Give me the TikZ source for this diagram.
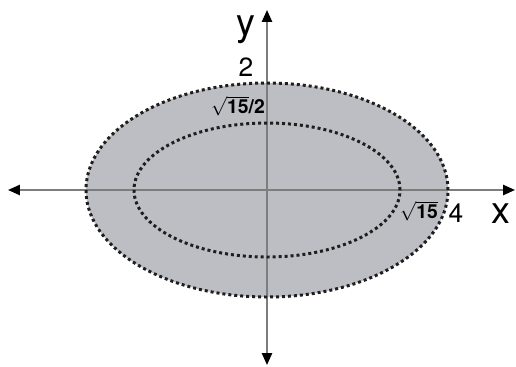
\documentclass[tikz,border=0pt]{standalone}
\usepackage{fontspec}
\setmainfont{TeX Gyre Heros}
\usetikzlibrary{arrows.meta}
\definecolor{riempimento}{RGB}{189,190,195}
\definecolor{asse}{RGB}{125,125,125}
\definecolor{puntini}{RGB}{30,30,30}
\tikzset{
	>={Triangle[length=6.8pt, width=5.8pt, color=black]},
	% assi cartesiani
	assi/.style={<->, asse, line width=1.1pt},
	% ellisse a puntini
	puntinata/.style={puntini, line width=1.7pt, dash pattern=on 1.7pt off 1.7pt},
	% nome dell'asse
	nomeasse/.style={inner sep=0pt, font=\fontsize{21.5}{24}\selectfont},
	% valore sull'asse
	valore/.style={inner sep=0pt, font=\fontsize{15}{17}\selectfont},
	% radice (semiassi interni)
	radice/.style={inner sep=0pt, font=\fontsize{11}{13}\selectfont\bfseries},
}

\begin{document}
\begin{tikzpicture}[x=0.02cm, y=0.02cm]
    \useasboundingbox (-267,-176) rectangle (249,190);

    % ---------------- regione ----------------
    \fill[riempimento] (0,0) ellipse [x radius=181, y radius=107];

    % ---------------- assi ----------------
    \coordinate (sx) at (-259,0);
    \coordinate (dx) at (248,0);
    \coordinate (basso) at (0,-175);
    \coordinate (alto) at (0,180);
    \draw[assi] (sx) -- (dx);
    \draw[assi] (basso) -- (alto);

    % ---------------- ellissi ----------------
    \draw[puntinata] (0,0) ellipse [x radius=181, y radius=107];
    \draw[puntinata] (0,0) ellipse [x radius=133, y radius=67];

    % ---------------- etichette ----------------
    \node[nomeasse] (ny) at (-21,160) {y};
    \node[nomeasse] (nx) at (234,-24) {x};
    \node[valore] (due) at (-21,123) {2};
    \node[valore] (quattro) at (189,-23) {4};
    \node[radice] (rad2) at (-29,84) {$\sqrt{\textbf{15}}$/2};
    \node[radice] (rad) at (152,-21) {$\sqrt{\textbf{15}}$};
  \end{tikzpicture}
\end{document}
